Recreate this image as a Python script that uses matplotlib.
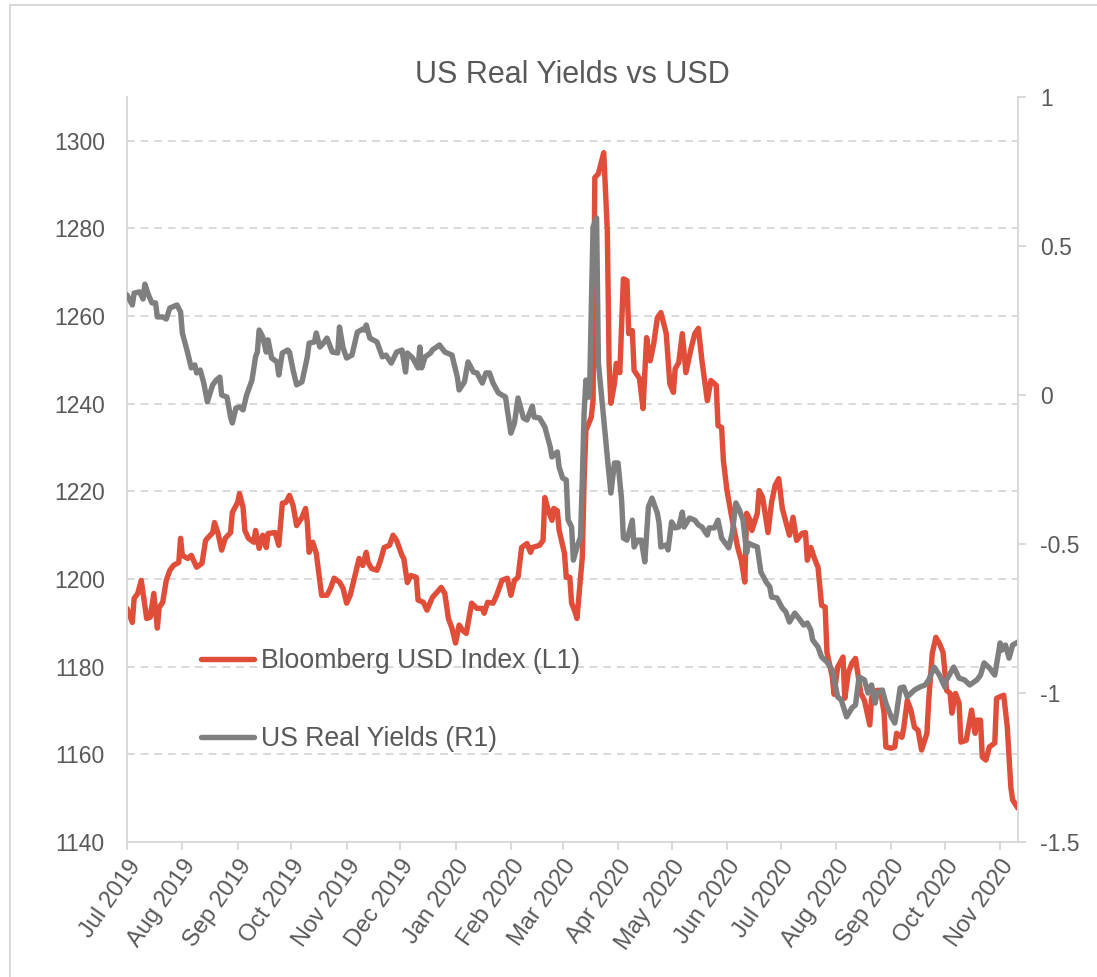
import matplotlib
matplotlib.use("Agg")
import matplotlib.pyplot as plt
import matplotlib.dates as mdates
from matplotlib.ticker import FixedLocator, FuncFormatter
from matplotlib.patches import Rectangle
import pandas as pd

plt.rcParams['font.family'] = ['Liberation Sans', 'DejaVu Sans']

# ---------------- data ----------------
start_date = "2019-07-01"
end_date = "2020-11-11"

# Bloomberg USD Index (left axis): day offsets from start_date and index level
usd_days = [0, 3, 4, 6, 8, 11, 13, 15, 17, 18, 20, 22, 24, 26, 29, 30, 31, 34, 36, 39,
            42, 44, 45, 48, 49, 51, 53, 55, 58, 59, 62, 63, 65, 66, 68, 71, 72, 74, 76, 78,
            79, 83, 85, 87, 89, 91, 93, 95, 98, 100, 101, 102, 104, 106, 109, 112, 114, 116, 119, 121,
            123, 125, 128, 130, 132, 134, 135, 137, 140, 142, 144, 147, 149, 151, 154, 155, 157, 159, 162, 163,
            166, 168, 171, 173, 176, 178, 180, 182, 184, 186, 188, 190, 193, 196, 199, 200, 202, 205, 207, 210,
            213, 215, 217, 219, 221, 224, 226, 227, 231, 233, 234, 236, 238, 239, 241, 242, 245, 246, 248, 249,
            251, 252, 255, 256, 257, 260, 261, 262, 264, 267, 269, 270, 271, 273, 274, 276, 278, 280, 281, 283,
            284, 287, 289, 291, 293, 295, 297, 299, 302, 304, 306, 307, 309, 311, 313, 316, 318, 320, 322, 325,
            327, 330, 331, 333, 334, 336, 339, 342, 344, 346, 347, 349, 350, 353, 354, 356, 359, 361, 363, 365,
            367, 371, 373, 375, 378, 380, 381, 383, 385, 387, 389, 391, 392, 395, 396, 398, 401, 402, 404, 406,
            408, 411, 413, 416, 417, 420, 422, 424, 425, 428, 430, 431, 434, 435, 437, 439, 441, 443, 445, 448,
            449, 451, 453, 455, 457, 459, 461, 462, 464, 466, 467, 470, 472, 473, 475, 476, 478, 479, 481, 483,
            486, 487, 491, 493, 495, 496, 499]
usd_values = [1193.3, 1190.1, 1195.6, 1196.7, 1199.7, 1191.0, 1191.3, 1196.7, 1188.8, 1193.5,
              1194.7, 1199.7, 1202.0, 1203.1, 1203.8, 1209.3, 1205.4, 1204.7, 1205.4, 1202.7,
              1203.6, 1208.8, 1209.3, 1210.6, 1212.9, 1210.4, 1206.6, 1209.3, 1210.6, 1215.2,
              1217.5, 1219.5, 1216.3, 1211.1, 1209.3, 1208.4, 1211.1, 1207.0, 1210.0, 1207.2,
              1210.4, 1210.6, 1207.7, 1217.3, 1217.5, 1219.1, 1216.8, 1212.2, 1214.1, 1216.1,
              1212.7, 1206.1, 1208.4, 1205.9, 1196.3, 1196.3, 1197.9, 1200.2, 1199.3, 1197.9,
              1194.5, 1196.3, 1201.3, 1204.7, 1203.1, 1206.1, 1203.8, 1202.4, 1202.0, 1204.3,
              1207.2, 1207.7, 1210.0, 1208.8, 1205.4, 1204.7, 1199.2, 1200.8, 1200.4, 1195.2,
              1194.7, 1192.9, 1195.8, 1196.7, 1198.1, 1196.7, 1191.0, 1188.8, 1185.4, 1189.5,
              1188.3, 1187.6, 1194.5, 1193.3, 1193.3, 1192.2, 1194.7, 1194.5, 1196.3, 1199.7,
              1200.2, 1196.3, 1199.7, 1200.4, 1207.2, 1208.1, 1206.1, 1207.2, 1207.7, 1208.8,
              1218.6, 1215.6, 1213.4, 1216.1, 1215.6, 1211.1, 1205.9, 1200.4, 1200.4, 1194.5,
              1192.4, 1191.0, 1205.0, 1222.5, 1233.9, 1236.9, 1240.7, 1291.6, 1292.5, 1297.3,
              1279.5, 1249.2, 1240.1, 1244.6, 1249.2, 1247.1, 1268.5, 1268.1, 1256.0, 1256.7,
              1247.6, 1245.8, 1238.9, 1255.1, 1249.8, 1253.7, 1259.6, 1260.8, 1256.0, 1244.6,
              1242.6, 1248.0, 1249.4, 1256.0, 1247.1, 1252.8, 1256.0, 1257.2, 1249.8, 1240.7,
              1245.3, 1244.2, 1235.0, 1234.6, 1227.1, 1220.2, 1213.4, 1207.2, 1204.3, 1199.3,
              1215.0, 1213.4, 1211.1, 1215.0, 1220.2, 1218.6, 1210.6, 1217.5, 1221.4, 1222.9,
              1216.1, 1210.0, 1214.1, 1208.8, 1210.4, 1210.6, 1204.3, 1207.2, 1204.7, 1202.7,
              1194.0, 1193.6, 1183.3, 1177.6, 1173.7, 1179.9, 1182.2, 1172.8, 1178.7, 1180.8,
              1181.9, 1173.9, 1172.3, 1166.7, 1173.0, 1174.6, 1174.6, 1169.4, 1161.7, 1161.4,
              1161.7, 1164.8, 1163.9, 1166.0, 1172.3, 1170.1, 1166.2, 1165.5, 1161.0, 1164.8,
              1172.3, 1183.1, 1186.7, 1185.3, 1183.3, 1174.6, 1173.9, 1169.4, 1173.9, 1171.7,
              1162.8, 1163.2, 1167.8, 1170.1, 1164.8, 1167.8, 1167.8, 1159.4, 1158.7, 1161.7,
              1162.6, 1172.8, 1173.5, 1166.2, 1152.5, 1149.6, 1147.7]

# US Real Yields (right axis): day offsets from start_date and yield (%)
ry_days = [0, 3, 4, 7, 9, 10, 12, 14, 16, 17, 20, 22, 24, 28, 30, 31, 34, 36, 38, 39,
           41, 43, 45, 48, 50, 52, 53, 56, 58, 59, 61, 63, 65, 67, 70, 72, 73, 74, 76, 78,
           79, 81, 84, 85, 87, 90, 91, 93, 95, 98, 101, 102, 105, 106, 108, 110, 112, 115, 118, 119,
           121, 123, 126, 129, 132, 133, 134, 136, 140, 143, 145, 148, 151, 154, 156, 157, 160, 163, 164, 165,
           167, 170, 171, 175, 178, 182, 185, 186, 189, 191, 194, 196, 199, 201, 203, 205, 208, 212, 213, 215,
           217, 219, 222, 224, 227, 228, 231, 234, 237, 238, 241, 242, 244, 246, 247, 249, 250, 252, 254, 255,
           256, 257, 258, 259, 261, 263, 264, 266, 269, 271, 273, 275, 277, 278, 280, 283, 284, 286, 288, 290,
           292, 294, 297, 298, 299, 302, 303, 305, 307, 309, 311, 312, 315, 318, 320, 322, 325, 326, 329, 331,
           333, 335, 337, 339, 341, 343, 345, 347, 348, 350, 353, 355, 358, 360, 361, 364, 367, 369, 371, 374,
           377, 379, 381, 383, 384, 387, 389, 392, 395, 398, 400, 403, 406, 408, 410, 413, 415, 417, 419, 420,
           423, 425, 428, 430, 431, 433, 435, 437, 441, 444, 447, 449, 452, 455, 458, 459, 463, 466, 469, 472,
           476, 478, 480, 483, 486, 489, 490, 492, 494, 496, 499]
ry_values = [0.336, 0.302, 0.342, 0.346, 0.322, 0.372, 0.336, 0.309, 0.309, 0.262,
             0.262, 0.255, 0.292, 0.302, 0.279, 0.208, 0.141, 0.091, 0.101, 0.074,
             0.084, 0.040, -0.023, 0.034, 0.050, 0.060, 0.000, -0.007, -0.074, -0.094,
             -0.044, -0.040, -0.050, 0.000, 0.050, 0.128, 0.144, 0.218, 0.195, 0.144,
             0.185, 0.124, 0.111, 0.067, 0.141, 0.151, 0.144, 0.084, 0.034, 0.044,
             0.128, 0.174, 0.178, 0.208, 0.161, 0.174, 0.191, 0.144, 0.141, 0.228,
             0.158, 0.124, 0.134, 0.211, 0.221, 0.218, 0.235, 0.191, 0.178, 0.128,
             0.134, 0.107, 0.144, 0.151, 0.077, 0.141, 0.124, 0.091, 0.161, 0.091,
             0.128, 0.141, 0.151, 0.168, 0.144, 0.134, 0.060, 0.017, 0.044, 0.111,
             0.077, 0.074, 0.040, 0.074, 0.074, 0.040, 0.007, -0.007, -0.050, -0.128,
             -0.094, -0.010, -0.077, -0.084, -0.037, -0.074, -0.077, -0.107, -0.174, -0.208,
             -0.191, -0.242, -0.279, -0.285, -0.419, -0.443, -0.554, -0.510, -0.477, -0.285,
             -0.060, 0.050, -0.007, -0.007, 0.564, 0.594, 0.107, -0.017, -0.208, -0.329,
             -0.228, -0.228, -0.352, -0.480, -0.487, -0.420, -0.510, -0.487, -0.487, -0.560,
             -0.376, -0.346, -0.396, -0.430, -0.510, -0.503, -0.520, -0.426, -0.446, -0.443,
             -0.393, -0.443, -0.413, -0.420, -0.436, -0.443, -0.470, -0.446, -0.446, -0.420,
             -0.480, -0.497, -0.513, -0.463, -0.362, -0.386, -0.420, -0.530, -0.497, -0.503,
             -0.510, -0.594, -0.628, -0.644, -0.678, -0.681, -0.715, -0.728, -0.762, -0.732,
             -0.755, -0.772, -0.765, -0.789, -0.822, -0.846, -0.879, -0.896, -0.923, -1.013,
             -1.023, -1.080, -1.050, -1.040, -0.946, -0.956, -1.000, -0.973, -1.034, -1.000,
             -0.990, -1.034, -1.080, -1.101, -1.067, -0.983, -0.980, -1.013, -0.990, -0.980,
             -0.973, -0.956, -0.913, -0.940, -0.980, -0.956, -0.913, -0.950, -0.956, -0.973,
             -0.956, -0.940, -0.899, -0.916, -0.940, -0.832, -0.856, -0.839, -0.883, -0.839,
             -0.829]

left_ticks = [1140, 1160, 1180, 1200, 1220, 1240, 1260, 1280, 1300]
right_ticks = [-1.5, -1.0, -0.5, 0.0, 0.5, 1.0]
title = "US Real Yields vs USD"
usd_label = "Bloomberg USD Index (L1)"
ry_label = "US Real Yields (R1)"

# ---------------- styling ----------------
RED = "#E04E39"
GRAY = "#7F7F7F"
TXT = "#595959"
AXC = "#D9D9D9"

W, H = 1097, 977
fig = plt.figure(figsize=(W / 100, H / 100), dpi=100)

# outer chart border
fig.patches.append(Rectangle((10 / W, 1 - 1030 / H), 1.2, 1025 / H, transform=fig.transFigure,
                             fill=False, edgecolor=AXC, linewidth=1.5))

ax = fig.add_axes([127 / W, 1 - 842 / H, (1018 - 127) / W, (842 - 97) / H])
ax2 = ax.twinx()

start = pd.Timestamp(start_date)
usd_dates = start + pd.to_timedelta(usd_days, unit="D")
ry_dates = start + pd.to_timedelta(ry_days, unit="D")

l1, = ax.plot(usd_dates, usd_values, color=RED, lw=3.9, solid_joinstyle="round",
              solid_capstyle="round", label=usd_label)
l2, = ax2.plot(ry_dates, ry_values, color=GRAY, lw=3.9, solid_joinstyle="round",
               solid_capstyle="round", label=ry_label)

ax.set_xlim(start, pd.Timestamp(end_date))
ax.set_ylim(1140, 1310)
ax2.set_ylim(-1.5, 1.0)

# gridlines
ax.yaxis.set_major_locator(FixedLocator(left_ticks))
for v in left_ticks[1:]:
    ax.axhline(v, color=AXC, lw=1.4, ls=(0, (4, 3)), zorder=0)

# spines
for s in ["top"]:
    ax.spines[s].set_visible(False)
    ax2.spines[s].set_visible(False)
for s in ["left", "bottom", "right"]:
    ax2.spines[s].set_visible(s == "right")
    ax.spines[s].set_visible(s in ("left", "bottom"))
ax.spines["left"].set_color(AXC)
ax.spines["left"].set_linewidth(1.4)
ax.spines["bottom"].set_color(AXC)
ax.spines["bottom"].set_linewidth(1.4)
ax2.spines["right"].set_color(AXC)
ax2.spines["right"].set_linewidth(1.4)

# left ticks
ax.tick_params(axis="y", length=0, pad=16, labelsize=16.5, labelcolor=TXT)
ax.yaxis.set_major_formatter(FuncFormatter(lambda v, p: f"{int(v)}"))

# right ticks
ax2.yaxis.set_major_locator(FixedLocator(right_ticks))
ax2.yaxis.set_major_formatter(FuncFormatter(lambda v, p: f"{v:g}"))
ax2.tick_params(axis="y", length=6, width=1.4, color=AXC, pad=10, labelsize=16.5, labelcolor=TXT)

# x ticks
ax.xaxis.set_major_locator(mdates.MonthLocator())
ax.xaxis.set_major_formatter(mdates.DateFormatter("%b %Y"))
ax.tick_params(axis="x", length=6, width=1.4, color=AXC, pad=4, labelsize=17, labelcolor=TXT)
for lab in ax.get_xticklabels():
    lab.set_rotation(55)
    lab.set_ha("right")
    lab.set_va("top")
    lab.set_rotation_mode("anchor")
ax2.tick_params(axis="x", length=0)

ax.set_title(title, fontsize=22, color=TXT, pad=10)

leg = ax2.legend(handles=[l1, l2], loc="upper left", bbox_to_anchor=(0.083, 0.26),
                 frameon=False, fontsize=19.2, labelcolor=TXT, handlelength=2.0,
                 handletextpad=0.25, labelspacing=1.95, borderpad=0, borderaxespad=0)

fig.savefig("out.png", dpi=100)
